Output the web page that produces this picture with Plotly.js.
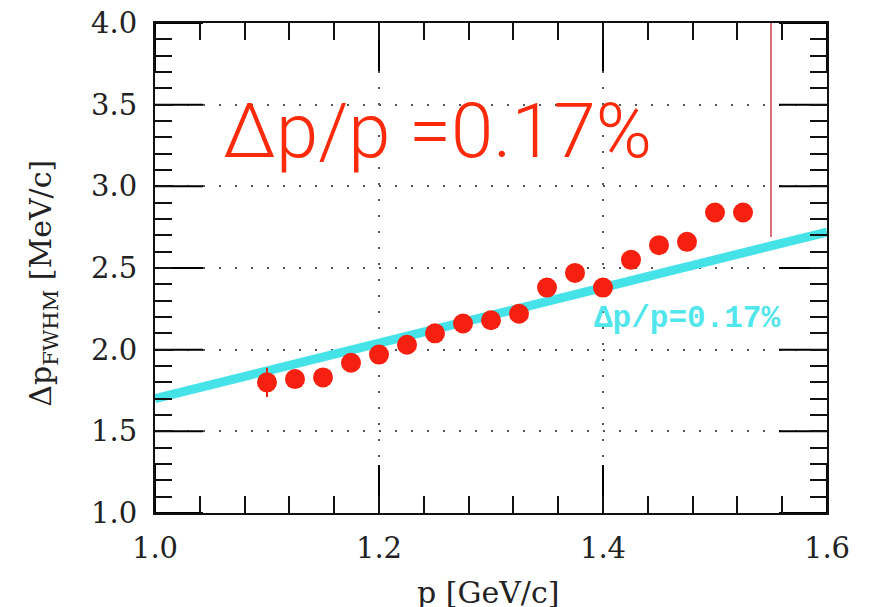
<!DOCTYPE html>
<html>
<head>
<meta charset="utf-8">
<script src="https://cdn.plot.ly/plotly-3.0.1.min.js"></script>
<style>html,body{margin:0;padding:0;background:#fff;}#chart{width:875px;height:607px;}</style>
</head>
<body>
<div id="chart"></div>
<script>
// Measured resolution data (red points)
const pValues = [1.100, 1.125, 1.150, 1.175, 1.200, 1.225, 1.250, 1.275, 1.300,
                 1.325, 1.350, 1.375, 1.400, 1.425, 1.450, 1.475, 1.500, 1.525];
const dpFWHM  = [1.80, 1.82, 1.83, 1.92, 1.97, 2.03, 2.10, 2.16, 2.18,
                 2.22, 2.38, 2.47, 2.38, 2.55, 2.64, 2.66, 2.84, 2.84];
const dpErr   = [0.09, 0.03, 0.03, 0.03, 0.03, 0.03, 0.03, 0.03, 0.03,
                 0.03, 0.03, 0.03, 0.03, 0.03, 0.03, 0.03, 0.03, 0.03];
// Reference line dp/p = 0.17%
const refLineP  = [1.0, 1.6];
const refLineDp = [1.70, 2.72];
// Red vertical marker line
const markP  = [1.55, 1.55];
const markDp = [2.69, 4.0];
// Axis ticks
const xTickVals = [1.0, 1.2, 1.4, 1.6];
const xTickText = ["1.0", "1.2", "1.4", "1.6"];
const yTickVals = [1.0, 1.5, 2.0, 2.5, 3.0, 3.5, 4.0];
const yTickText = ["1.0", "1.5", "2.0", "2.5", "3.0", "3.5", "4.0"];
const xMinorStep = 0.04;
const yMinorStep = 0.1;

const serif = "DejaVu Serif, Liberation Serif, serif";
const xRange = [1.0, 1.6];
const yRange = [1.0, 4.0];

const W = 875, H = 607;
const M = {l: 155, r: 48, t: 23, b: 94};
const plotW = W - M.l - M.r;
const plotH = H - M.t - M.b;
const majorLenPx = 48;
// major tick length converted to data units for each direction
const yTickLenData = majorLenPx / plotH * (yRange[1] - yRange[0]);
const xTickLenData = majorLenPx / plotW * (xRange[1] - xRange[0]);

// Build the long inside major tick segments from the tick values
const majX = [], majY = [];
xTickVals.forEach(function (v) {
  majX.push(v, v, null); majY.push(yRange[0], yRange[0] + yTickLenData, null);
  majX.push(v, v, null); majY.push(yRange[1], yRange[1] - yTickLenData, null);
});
yTickVals.forEach(function (v) {
  majX.push(xRange[0], xRange[0] + xTickLenData, null); majY.push(v, v, null);
  majX.push(xRange[1], xRange[1] - xTickLenData, null); majY.push(v, v, null);
});

const traces = [
  {
    x: refLineP, y: refLineDp, type: "scatter", mode: "lines",
    line: {color: "#45e3e8", width: 9}, hoverinfo: "skip", showlegend: false
  },
  {
    x: markP, y: markDp, type: "scatter", mode: "lines",
    line: {color: "#c8404e", width: 1.5}, hoverinfo: "skip", showlegend: false
  },
  {
    x: pValues, y: dpFWHM, type: "scatter", mode: "markers",
    marker: {color: "#f5200f", size: 20},
    error_y: {type: "data", array: dpErr, visible: true, color: "#e8200f", thickness: 2, width: 0},
    showlegend: false
  },
  {
    // long major tick marks on all four sides
    x: majX, y: majY, type: "scatter", mode: "lines", connectgaps: false,
    line: {color: "#000000", width: 2}, hoverinfo: "skip", showlegend: false, cliponaxis: false
  },
  {
    // invisible trace anchoring the minor-tick overlay axes
    x: refLineP, y: refLineDp, xaxis: "x2", yaxis: "y2", type: "scatter", mode: "lines",
    line: {color: "rgba(0,0,0,0)", width: 0}, hoverinfo: "skip", showlegend: false
  }
];

const tickOnly = {
  ticks: "inside", tickwidth: 2, tickcolor: "#111",
  showline: false, mirror: "ticks", showgrid: false, zeroline: false,
  showticklabels: false
};

const layout = {
  width: W, height: H,
  margin: M,
  paper_bgcolor: "#ffffff", plot_bgcolor: "#ffffff",
  showlegend: false,
  xaxis: {
    range: xRange, tickmode: "array", tickvals: xTickVals, ticktext: xTickText,
    ticks: "", showline: true, linecolor: "#111", linewidth: 2, mirror: true,
    showgrid: true, gridcolor: "#555", gridwidth: 2, griddash: "2px,14px",
    zeroline: false, ticklabelstandoff: 8,
    tickfont: {family: serif, size: 29, color: "#222"}
  },
  yaxis: {
    range: yRange, tickmode: "array", tickvals: yTickVals, ticktext: yTickText,
    ticks: "", showline: true, linecolor: "#111", linewidth: 2, mirror: true,
    showgrid: true, gridcolor: "#555", gridwidth: 2, griddash: "2px,14px",
    zeroline: false, ticklabelstandoff: 10,
    tickfont: {family: serif, size: 29, color: "#222"}
  },
  xaxis2: Object.assign({}, tickOnly, {range: xRange, tickmode: "linear", tick0: xRange[0], dtick: xMinorStep, ticklen: 17, overlaying: "x", anchor: "y2", side: "bottom"}),
  yaxis2: Object.assign({}, tickOnly, {range: yRange, tickmode: "linear", tick0: yRange[0], dtick: yMinorStep, ticklen: 17, overlaying: "y", anchor: "x2", side: "left"}),
  annotations: [
    {
      text: "p [GeV/c]", xref: "paper", yref: "paper", x: 0.495, y: -0.163,
      xanchor: "center", yanchor: "middle", showarrow: false,
      font: {family: serif, size: 30, color: "#222"}
    },
    {
      text: "Δp<sub>FWHM</sub> [MeV/c]", xref: "paper", yref: "paper", x: -0.1667, y: 0.47,
      xanchor: "center", yanchor: "middle", textangle: -90, showarrow: false,
      font: {family: serif, size: 30, color: "#222"}
    },
    {
      text: "Δp/p=0.17%", xref: "x", yref: "y", x: 1.39, y: 2.19,
      xanchor: "left", yanchor: "middle", showarrow: false,
      font: {family: "Liberation Mono, DejaVu Sans Mono, monospace", size: 31, color: "#50e6ec", weight: 700}
    },
    {
      text: "Δp/p =0.17%", xref: "paper", yref: "paper", x: 0.421, y: 0.78,
      xanchor: "center", yanchor: "middle", showarrow: false,
      font: {family: "Roboto, Liberation Sans, sans-serif", size: 76, color: "#fa2a0a", weight: 300}
    }
  ]
};

Plotly.newPlot("chart", traces, layout, {displayModeBar: false, staticPlot: true});
</script>
</body>
</html>
